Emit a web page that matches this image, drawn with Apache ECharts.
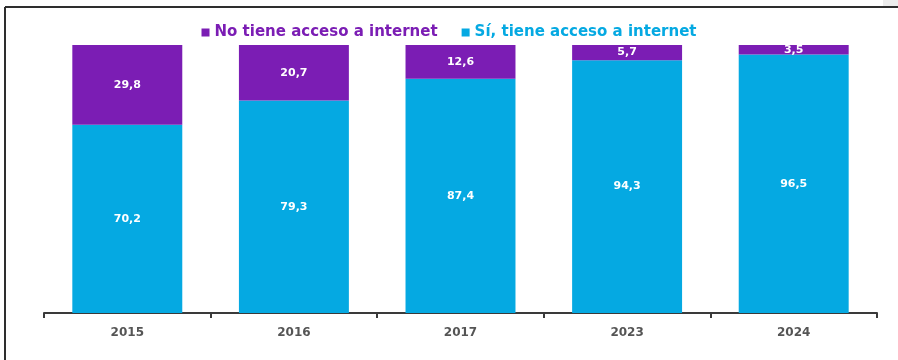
<!DOCTYPE html>
<html>
<head>
<meta charset="utf-8">
<script src="https://cdn.jsdelivr.net/npm/echarts@6/dist/echarts.min.js"></script>
<style>
  html, body { margin: 0; padding: 0; background: #ffffff; }
  #chart { width: 898px; height: 360px; }
</style>
</head>
<body>
<div id="chart"></div>
<script>
// Access to internet by year (percent of households)
const years = ['2015', '2016', '2017', '2023', '2024'];
const sinAcceso = [29.8, 20.7, 12.6, 5.7, 3.5];
const conAcceso = [70.2, 79.3, 87.4, 94.3, 96.5];

const seriesNames = ['No tiene acceso a internet', 'Sí, tiene acceso a internet'];
const purple = '#7b1db4';
const cyan = '#05a9e2';
const fontFamily = '"DejaVu Sans", "Open Sans", sans-serif';

const fmt = p => String(p.value).replace('.', ',');

const chart = echarts.init(document.getElementById('chart'), null, { renderer: 'canvas' });

chart.setOption({
  backgroundColor: '#ffffff',
  animation: false,
  legend: {
    top: 20,
    left: 'center',
    itemWidth: 8,
    itemHeight: 8,
    itemGap: 24,
    icon: 'rect',
    textStyle: { fontFamily, fontWeight: 'bold', fontSize: 15 },
    data: [
      { name: seriesNames[0], textStyle: { color: purple } },
      { name: seriesNames[1], textStyle: { color: cyan } }
    ]
  },
  grid: { left: 44, right: 21, top: 45, bottom: 47 },
  xAxis: {
    type: 'category',
    data: years,
    axisLine: { lineStyle: { color: '#3a3a3a', width: 2 } },
    axisTick: { show: true, length: 5, lineStyle: { color: '#3a3a3a', width: 2 } },
    axisLabel: { color: '#555555', fontFamily, fontWeight: 'bold', fontSize: 12, margin: 14 }
  },
  yAxis: {
    type: 'value', min: 0, max: 100, show: false,
    splitLine: { show: false }
  },
  series: [
    {
      name: seriesNames[1],
      type: 'bar',
      stack: 'total',
      data: conAcceso,
      barWidth: '66%',
      itemStyle: { color: cyan },
      label: { show: true, position: 'inside', color: '#ffffff', fontFamily, fontWeight: 'bold', fontSize: 11, formatter: fmt }
    },
    {
      name: seriesNames[0],
      type: 'bar',
      stack: 'total',
      data: sinAcceso,
      barWidth: '66%',
      itemStyle: { color: purple },
      label: { show: true, position: 'inside', color: '#ffffff', fontFamily, fontWeight: 'bold', fontSize: 11, formatter: fmt }
    }
  ],
  graphic: [
    { type: 'line', shape: { x1: 5, y1: 7, x2: 898, y2: 7 }, style: { stroke: '#2e2e2e', lineWidth: 2 } },
    { type: 'line', shape: { x1: 5, y1: 7, x2: 5, y2: 360 }, style: { stroke: '#2e2e2e', lineWidth: 2 } },
    { type: 'rect', shape: { x: 883, y: 0, width: 15, height: 6 }, style: { fill: '#ececec' } }
  ]
});
</script>
</body>
</html>
